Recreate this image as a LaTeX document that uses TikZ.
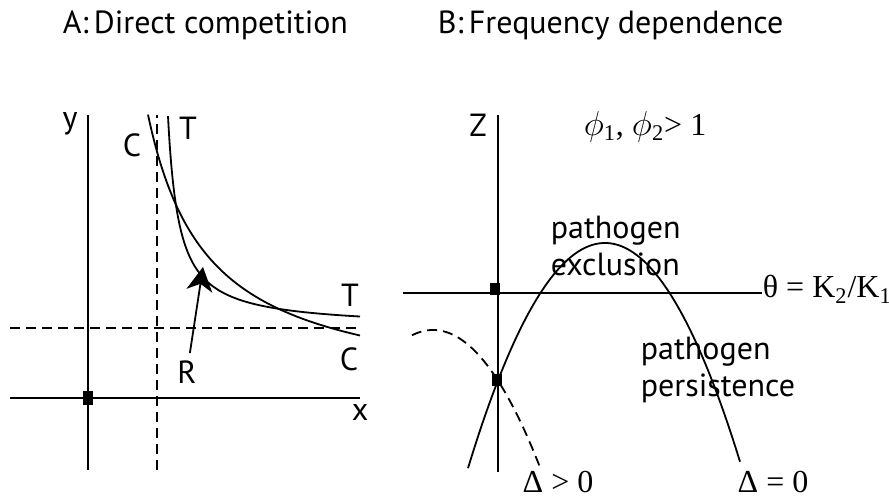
\documentclass[tikz,border=0pt]{standalone}
\usepackage[no-math]{fontspec}
\setmainfont{PT Sans}
\newfontfamily\lblserif{Liberation Serif}
\usepackage{tikz}
\usetikzlibrary{arrows.meta}

\begin{document}
\begin{tikzpicture}[x=0.5pt, y=0.5pt, line width=0.9pt,
    every node/.style={font=\fontsize{16}{18.5}\selectfont},
    guide/.style={dashed, dash pattern=on 5pt off 3pt},
    mathlbl/.style={font=\fontsize{16}{19}\selectfont\lblserif}]
  \useasboundingbox (0,0) rectangle (889,501);
  \node[anchor=base west, inner sep=0pt] (titleA) at (62,467) {A:\,Direct competition};
  \node[anchor=base west, inner sep=0pt] (titleB) at (437,467) {B:\,Frequency dependence};
  % ---------- A: DIRECT COMPETITION ----------
  \begin{scope}[shift={(88,103)}]
    \coordinate (O) at (0,0);
    \coordinate (Xl) at (-78,0);
    \coordinate (Xr) at (272,0);
    \coordinate (Yb) at (0,-72);
    \coordinate (Yt) at (0,283);
    \coordinate (Vb) at (69,-72);
    \coordinate (Vt) at (69,283);
    \coordinate (Hl) at (-78,70);
    \coordinate (Hr) at (272,70);
    \coordinate (Rtip) at (115,131);
    \draw (Xl) -- (Xr);
    \draw (Yb) -- (Yt);
    \draw[guide] (Vb) -- (Vt);
    \draw[guide] (Hl) -- (Hr);
    \draw[domain=60:272, samples=120, smooth] plot (\x, {17/\x*1000});
    \draw[domain=80:272, samples=200, smooth] plot (\x, {70+2330/(\x-69)});
    \fill (O) ++(-5,-7) rectangle ++(10,14);
    \node (ylbl) at (-18,274) {y};
    \node (xlbl) at (272,-15) {x};
    \node (Ctop) at (44,253) {C};
    \node (Ttop) at (100,270) {T};
    \node (Tbot) at (262,103) {T};
    \node (Cbot) at (261,39) {C};
    \node (R) at (99,26) {R};
    \draw[-{Stealth[length=12pt,width=13pt,inset=3.5pt]}] (R) -- (Rtip);
  \end{scope}
  % ---------- B: FREQUENCY DEPENDENCE ----------
  \begin{scope}[shift={(498,208)}]
    \coordinate (Tl) at (-95,0);
    \coordinate (Tr) at (264,0);
    \coordinate (Zb) at (0,-179);
    \coordinate (Zt) at (0,178);
    \coordinate (S1) at (-3,4);
    \coordinate (S2) at (-1,-87);
    \draw (Tl) -- (Tr);
    \draw (Zb) -- (Zt);
    \draw[domain=-30:242, samples=100, smooth] plot (\x, {50-(0.10954*(\x-107))^2});
    \draw[guide, domain=-86:42, samples=60, smooth] plot (\x, {-37-(0.10954*(\x+65))^2});
    \foreach \p in {S1,S2} \fill (\p) ++(-5,-6) rectangle ++(10,12);
    \node (zlbl) at (-20,168) {Z};
    \node[mathlbl] (phis) at (147,166) {$\phi$\textsubscript{1}, $\phi$\textsubscript{2}> 1};
    \node[mathlbl, anchor=base west, inner sep=0pt] (theta) at (264,-5) {θ = K\textsubscript{2}/K\textsubscript{1}};
    \node[anchor=west, inner sep=0pt, align=left] (excl) at (52,46.5) {pathogen\\exclusion};
    \node[anchor=west, inner sep=0pt, align=left] (pers) at (142,-77) {pathogen\\persistence};
    \node[mathlbl] (dpos) at (60,-189) {Δ > 0};
    \node[mathlbl] (dzero) at (275,-189) {Δ = 0};
  \end{scope}
\end{tikzpicture}
\end{document}
